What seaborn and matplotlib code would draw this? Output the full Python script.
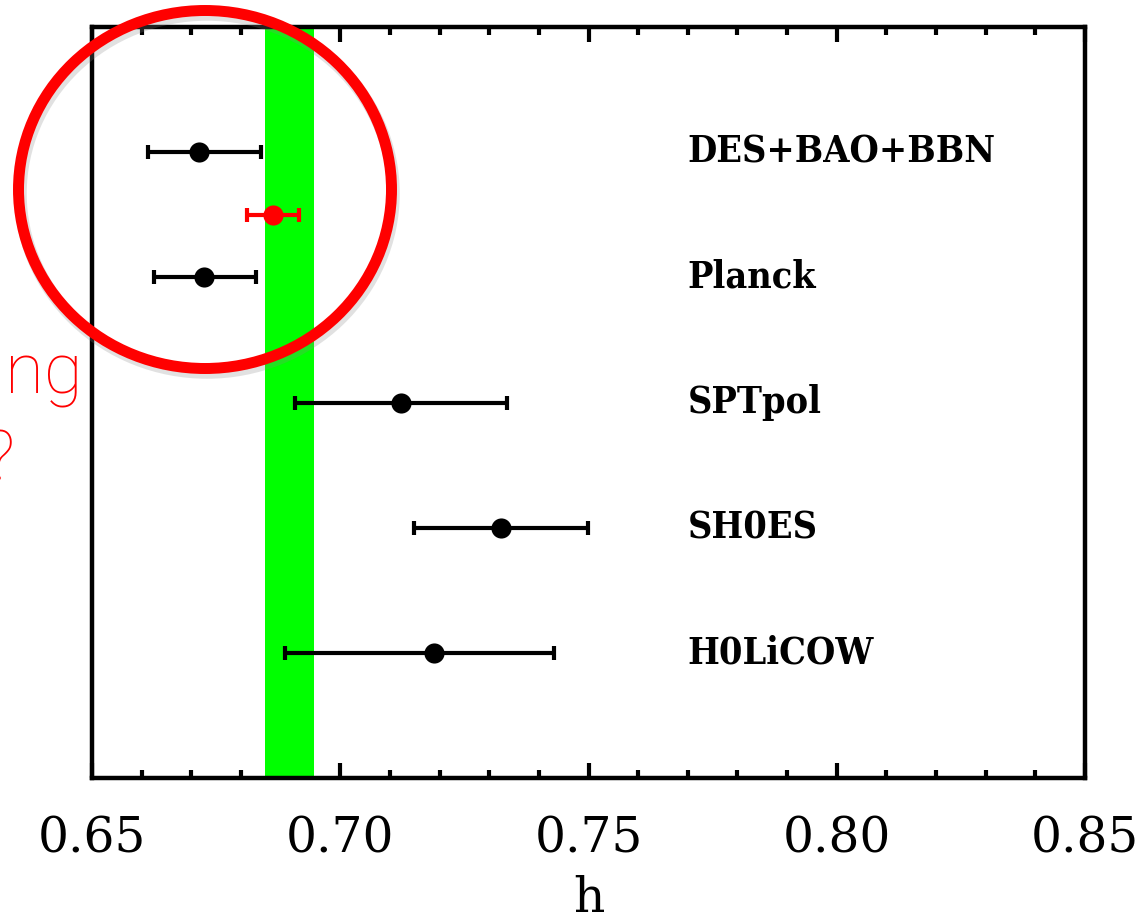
import matplotlib
matplotlib.use("Agg")
import matplotlib.pyplot as plt
from matplotlib.patches import Ellipse
from matplotlib.ticker import MultipleLocator
import pandas as pd
import seaborn as sns

# Measurements of the dimensionless Hubble parameter h
names = ["DES+BAO+BBN", "Planck", "SPTpol", "SH0ES", "H0LiCOW"]
h_central = [0.6716, 0.6726, 0.7122, 0.7324, 0.7189]
h_lower = [0.6613, 0.6625, 0.6909, 0.7149, 0.6889]
h_upper = [0.6840, 0.6830, 0.7336, 0.7499, 0.7431]
rows = [5, 4, 3, 2, 1]

# Highlighted combined result
combo_central = [0.6865]
combo_lower = [0.6812]
combo_upper = [0.6917]
combo_row = [4.5]

# Shaded reference band
band_lower = 0.6848
band_upper = 0.6947

xticks = [0.65, 0.70, 0.75, 0.80, 0.85]
xtick_labels = ["0.65", "0.70", "0.75", "0.80", "0.85"]

sns.set_theme(style="ticks")
plt.rcParams["font.family"] = ["DejaVu Serif"]
plt.rcParams["text.color"] = "black"
plt.rcParams["axes.labelcolor"] = "black"
plt.rcParams["xtick.color"] = "black"
plt.rcParams["xtick.labelcolor"] = "black"

W, H = 1142, 919
fig = plt.figure(figsize=(W / 100, H / 100), dpi=100)
fig.patch.set_facecolor("white")
ax = fig.add_axes([92 / W, 1 - 778 / H, (1085 - 92) / W, (778 - 27) / H])
ax.set_facecolor("white")

meas = pd.DataFrame({"name": names, "h": h_central, "lo": h_lower,
                     "hi": h_upper, "row": rows})
combo = pd.DataFrame({"h": combo_central, "lo": combo_lower,
                      "hi": combo_upper, "row": combo_row})

ax.axvspan(band_lower, band_upper, color="#00ff00", lw=0, zorder=1)

for df, col in [(meas, "black"), (combo, "#ff0000")]:
    ax.errorbar(df["h"], df["row"], xerr=[df["h"] - df["lo"], df["hi"] - df["h"]],
                fmt="none", ecolor=col, elinewidth=3, capsize=5, capthick=3,
                zorder=2)
    sns.scatterplot(data=df, x="h", y="row", color=col, s=210, linewidth=0,
                    ax=ax, zorder=3, legend=False)

for n, r in zip(names, rows):
    ax.text(0.770, r, n, fontsize=27, va="center", ha="left", color="black",
            fontweight="bold", fontstretch="condensed")

ax.set_xlim(0.65, 0.85)
ax.set_ylim(0, 6)
ax.set_yticks([])
ax.set_ylabel("")
ax.set_xticks(xticks, xtick_labels)
ax.xaxis.set_minor_locator(MultipleLocator(0.01))
ax.tick_params(axis="x", which="major", direction="in", length=11, width=3,
               top=True, bottom=True, labelsize=35, pad=27, color="black",
               labelcolor="black")
ax.tick_params(axis="x", which="minor", direction="in", length=6, width=3,
               top=True, bottom=True, color="black")
for s in ax.spines.values():
    s.set_visible(True)
    s.set_linewidth(3.2)
    s.set_color("black")
ax.set_xlabel("h", fontsize=35, labelpad=9, color="black")

# Red highlight ring with a soft drop shadow
cx, cy, ew, eh = 205, 189.5, 373, 358
shadow = Ellipse(((cx + 2) / W, 1 - (cy + 4) / H), ew / W, eh / H,
                 transform=fig.transFigure, fill=False, ec="#888888",
                 lw=9, alpha=0.25, zorder=5)
ring = Ellipse((cx / W, 1 - cy / H), ew / W, eh / H,
               transform=fig.transFigure, fill=False, ec="#ff0000",
               lw=7.9, zorder=6)
fig.add_artist(shadow)
fig.add_artist(ring)

fig.text(83 / W, 1 - 393 / H, "ng", ha="right", va="baseline", fontsize=51,
         color="#ff0000", family=["Roboto"], fontweight="light")
fig.text(15 / W, 1 - 480 / H, "?", ha="right", va="baseline", fontsize=51,
         color="#ff0000", family=["Roboto"], fontweight="light")

fig.savefig("out.png", dpi=100, facecolor="white")
